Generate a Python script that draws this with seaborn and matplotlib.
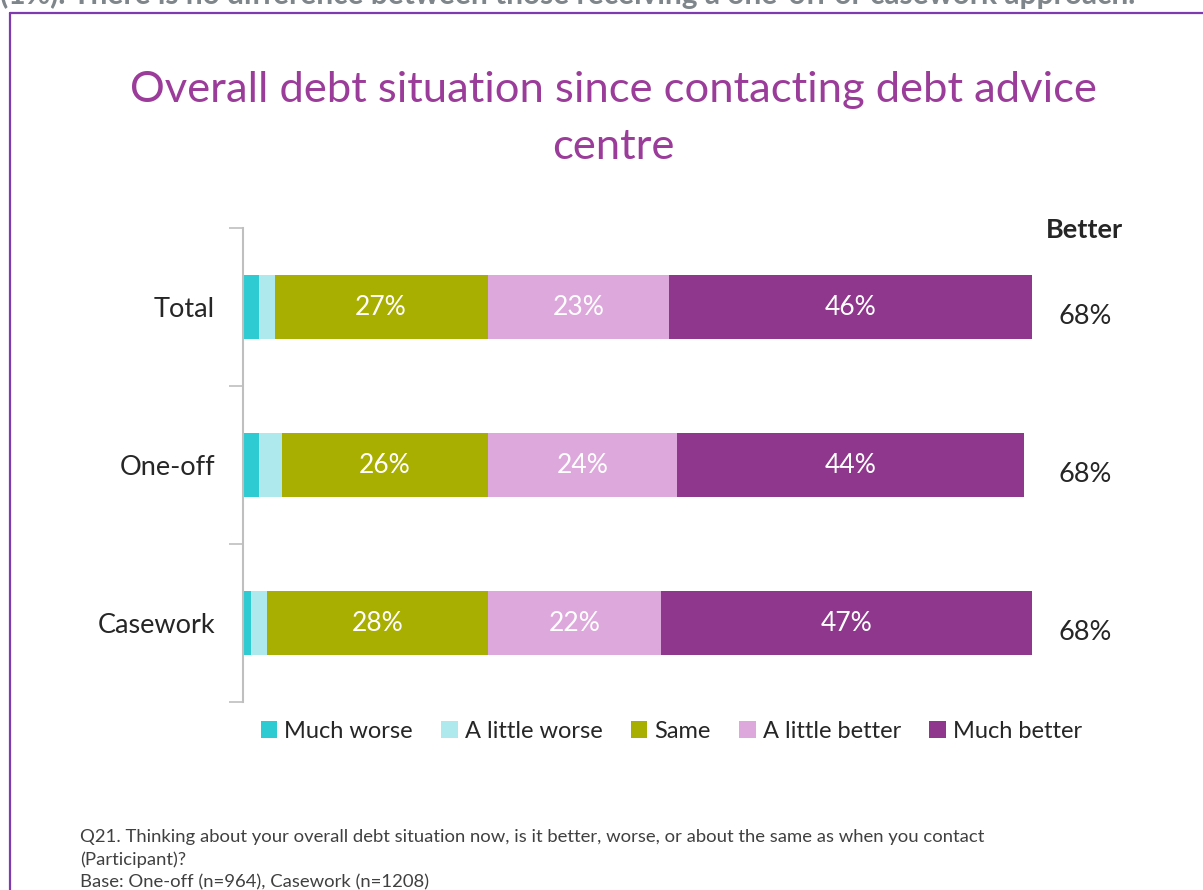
import matplotlib
matplotlib.use("Agg")
import matplotlib.pyplot as plt
from matplotlib.lines import Line2D
from matplotlib.patches import Patch
import numpy as np
import pandas as pd
import seaborn as sns

# Survey results (% of respondents)
groups = ["Total", "One-off", "Casework"]
responses = ["Much worse", "A little worse", "Same", "A little better", "Much better"]
much_worse = [2, 2, 1]
little_worse = [2, 3, 2]
same = [27, 26, 28]
little_better = [23, 24, 22]
much_better = [46, 44, 47]
better_total = [68, 68, 68]

colours = ["#2ECBD2", "#AEE9EE", "#A9AF00", "#DDA8DB", "#8F378D"]
labelled = [False, False, True, True, True]

sns.set_theme(style="white")
plt.rcParams["font.family"] = ["Lato", "DejaVu Sans"]

fig = plt.figure(figsize=(12.03, 8.90), dpi=100)
ax = fig.add_axes([243 / 1203, 1 - 702 / 890, 789 / 1203, 474 / 890])

series = [much_worse, little_worse, same, little_better, much_better]
values = np.array(series, dtype=float)          # shape (5, 3)
cum = np.cumsum(values, axis=0)                 # right edge of each segment

# Stacked bars: draw cumulative totals from the outermost segment inwards
for i in range(len(responses) - 1, -1, -1):
    df = pd.DataFrame({"group": groups, "value": cum[i]})
    sns.barplot(data=df, x="value", y="group", orient="h", color=colours[i],
                width=0.4, saturation=1, linewidth=0, ax=ax, order=groups)

# Percentage labels inside the larger segments
for i, resp in enumerate(responses):
    if not labelled[i]:
        continue
    for j, g in enumerate(groups):
        mid = cum[i][j] - values[i][j] / 2
        ax.text(mid, j, f"{int(values[i][j])}%", ha="center", va="center",
                color="white", fontsize=19)

# "Better" column on the right
ax.text(1.067, -0.49, "Better", transform=ax.get_yaxis_transform(), ha="center",
        va="center", fontsize=19.5, fontweight="bold", color="#262626")
for j, v in enumerate(better_total):
    ax.text(1.067, j + 0.06, f"{v}%", transform=ax.get_yaxis_transform(),
            ha="center", va="center", fontsize=19.5, color="#262626")

ax.set_xlim(0, 100)
ax.set_ylim(2.5, -0.5)
ax.set_xlabel("")
ax.set_ylabel("")
ax.set_xticks([])
for side in ["top", "right", "bottom"]:
    ax.spines[side].set_visible(False)
ax.spines["left"].set_color("#BFBFBF")
ax.spines["left"].set_linewidth(1.5)
ax.set_yticks([-0.5, 0.5, 1.5, 2.5], minor=True)
ax.tick_params(axis="y", which="minor", length=10, width=1.2, color="#BFBFBF",
               direction="out", left=True)
ax.tick_params(axis="y", which="major", length=0, pad=20, labelsize=19.5,
               labelcolor="#262626")
ax.set_facecolor("white")

# Legend
handles = [Patch(facecolor=c, edgecolor="none") for c in colours]
fig.legend(handles, responses, loc="center", bbox_to_anchor=(0.558, 1 - 731 / 890),
           ncol=5, frameon=False, fontsize=17, handlelength=0.7, handleheight=0.7,
           handletextpad=0.3, columnspacing=1.2, labelcolor="#262626")

# Title
fig.text(0.51, 1 - 90 / 890, "Overall debt situation since contacting debt advice",
         ha="center", va="center", fontsize=31.3, color="#9B3C9A")
fig.text(0.51, 1 - 147 / 890, "centre", ha="center", va="center",
         fontsize=31.3, color="#9B3C9A")

# Heading line running off the top edge
fig.text(0.0, 1 - 4 / 890,
         "(1%). There is no difference between those receiving a one-off or casework approach.",
         ha="left", va="baseline", fontsize=21.5, fontweight="bold", color="#7F868B")

# Frame lines
frame_col = "#7E3BB0"
fig.add_artist(Line2D([10 / 1203, 1], [1 - 13 / 890, 1 - 13 / 890],
                      color=frame_col, lw=1.6, transform=fig.transFigure))
fig.add_artist(Line2D([10 / 1203, 10 / 1203], [0, 1 - 13 / 890],
                      color=frame_col, lw=1.6, transform=fig.transFigure))

# Footnote
foot = ["Q21. Thinking about your overall debt situation now, is it better, worse, or about the same as when you contact",
        "(Participant)?",
        "Base: One-off (n=964), Casework (n=1208)"]
for k, line in enumerate(foot):
    fig.text(80 / 1203, 1 - (837 + 22.5 * k) / 890, line, ha="left", va="center",
             fontsize=13.3, color="#404040")

fig.savefig("out.png", dpi=100, facecolor="white")
